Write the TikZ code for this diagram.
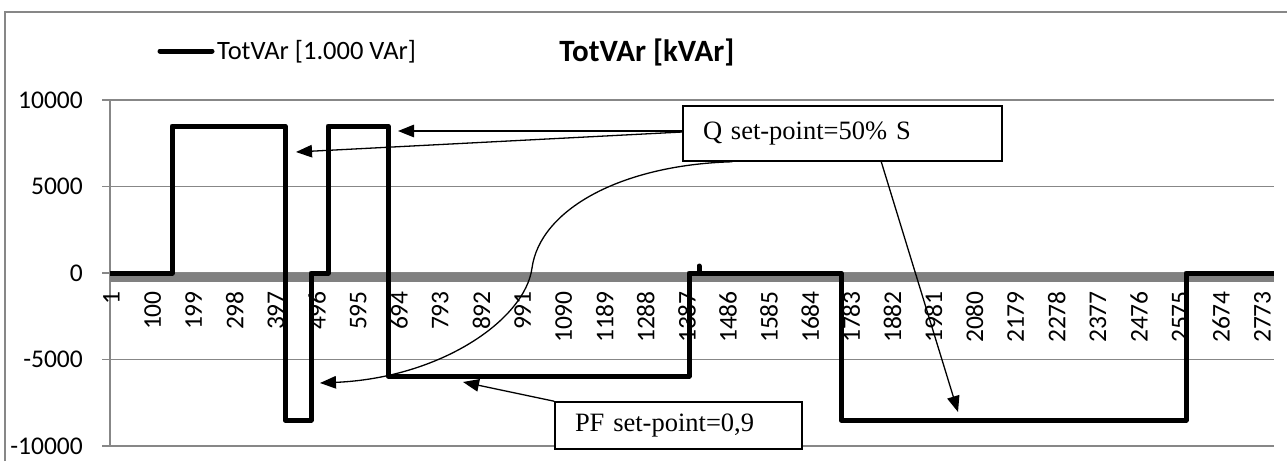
\documentclass[tikz,border=0pt]{standalone}
\usepackage{fontspec}
\newfontfamily\calib{Carlito}
\newfontfamily\tnr{Liberation Serif}
\usetikzlibrary{arrows.meta}
\definecolor{gridgray}{HTML}{878787}
\definecolor{bandgray}{HTML}{808080}
\tikzset{
  gridline/.style={draw=gridgray, line width=1.5pt},
  series/.style={draw=black, line width=5pt, line join=round},
  ylab/.style={anchor=east, inner sep=0pt, font=\calib\fontsize{25.5}{30}\selectfont},
  xlab/.style={anchor=east, rotate=90, inner sep=0pt, font=\calib\fontsize{25.5}{30}\selectfont},
  callout/.style={draw=black, line width=1.5pt, fill=white, align=left, inner xsep=20pt, inner ysep=0pt, font=\tnr\fontsize{26.5}{30}\selectfont},
  arr/.style={draw=black, line width=1.3pt, -{Triangle[length=16pt,width=12.5pt]}},
}
\begin{document}
\begin{tikzpicture}[x=1pt,y=-1pt]
\useasboundingbox (0,0) rectangle (1287,461);
% outer chart frame
\draw[gridgray, line width=1.5pt] (5,461) -- (5,12) -- (1287,12);
% gridlines
\foreach \yy in {100,186.5,273,359.5,446} {
  \draw[gridline] (102,\yy) -- (1274,\yy);
}
\draw[gridline] (110,100) -- (110,446);
% category axis band
\fill[bandgray] (110,273) rectangle (1274,282);
% y labels
\node[ylab] (y1) at (83,100) {10000};
\node[ylab] (y2) at (83,186.5) {5000};
\node[ylab] (y3) at (83,273) {0};
\node[ylab] (y4) at (83,359.5) {-5000};
\node[ylab] (y5) at (83,446) {-10000};
% x labels
\foreach \k in {0,...,28} {
  \pgfmathtruncatemacro\lab{1+99*\k}
  \node[xlab] (xl\k) at ({111.5+41.1*\k},291) {\lab};
}
% series
\draw[series] (110,273) -- (172,273) -- (172,126) -- (285,126) -- (285,420) -- (311,420) -- (311,273)
  -- (328,273) -- (328,126) -- (388,126) -- (388,376) -- (689,376) -- (689,273) -- (841,273)
  -- (841,420) -- (1186,420) -- (1186,273) -- (1274,273);
\draw[black, line width=5pt, line cap=round] (699,273) -- (699,266);
% legend
\draw[black, line width=5pt, line cap=round] (160,51) -- (212,51);
\node[anchor=west, inner sep=0pt, font=\calib\fontsize{26.5}{30}\selectfont] (leg) at (217,52) {TotVAr [1.000 VAr]};
% title
\node[inner sep=0pt, font=\calib\bfseries\fontsize{31}{36}\selectfont] (title) at (647,52) {TotVAr [kVAr]};
% callouts
\node[callout, text width=279pt, minimum height=55pt] (qbox) at (842.5,133.5) {\raisebox{-2pt}{Q set-point=50\% S}};
\node[callout, text width=207pt, minimum height=47pt] (pfbox) at (678.5,425.5) {\raisebox{-2pt}{PF set-point=0,9}};
% arrow targets
\coordinate (t1) at (398,131);
\coordinate (t2) at (296,152);
\coordinate (t3) at (320,383);
\coordinate (t4) at (958,412);
\coordinate (t5) at (463,382);
\draw[arr] ([yshift=2.5pt]qbox.west) -- (t1);
\draw[arr] ([yshift=1.5pt]qbox.west) -- (t2);
\draw[arr] ([xshift=50pt]qbox.south west) .. controls (620,165) and (540,210) .. (532,268)
  .. controls (525,320) and (440,378) .. (t3);
\draw[arr] ([xshift=199pt]qbox.south west) -- (t4);
\draw[arr] (pfbox.north west) -- (t5);
\end{tikzpicture}
\end{document}
